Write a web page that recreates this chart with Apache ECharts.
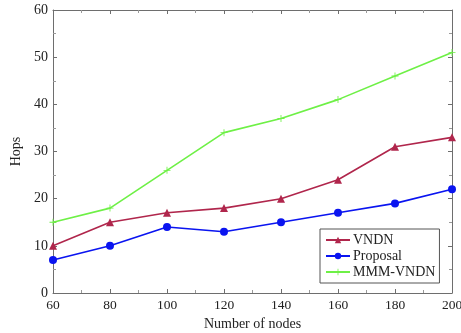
<!DOCTYPE html>
<html>
<head>
<meta charset="utf-8">
<script src="https://cdn.jsdelivr.net/npm/echarts@6/dist/echarts.min.js"></script>
<style>
  html, body { margin: 0; padding: 0; background: #fff; }
  #chart { width: 461px; height: 333px; }
</style>
</head>
<body>
<div id="chart"></div>
<script>
const nodes = [60, 80, 100, 120, 140, 160, 180, 200]
const vndn = [10, 15, 17, 18, 20, 24, 31, 33]
const proposal = [7, 10, 14, 13, 15, 17, 19, 22]
const mmmVndn = [15, 18, 26, 34, 37, 41, 46, 51]

const font = 'Liberation Serif'
const axisGrey = '#6e6e6e'
const plus = 'path://M4.4,0h1.2v4.4h4.4v1.2h-4.4v4.4h-1.2v-4.4H0v-1.2h4.4z'

const pairs = (ys) => nodes.map((x, i) => [x, ys[i]])

const chart = echarts.init(document.getElementById('chart'))

// shared axis look: ticks inside, minor ticks, no grid lines
const baseAxis = {
    type: 'value',
    axisLine: { show: true, onZero: false, lineStyle: { color: axisGrey, width: 1 } },
    axisTick: { show: true, inside: true, length: 4, lineStyle: { color: axisGrey } },
    minorTick: { show: true, splitNumber: 2, length: 3, lineStyle: { color: '#999' } },
    splitLine: { show: false },
}

chart.setOption({
    animation: false,
    grid: { left: 53, right: 9, top: 10, bottom: 40, containLabel: false, outerBoundsMode: 'none' },
    xAxis: [
        Object.assign({}, baseAxis, {
            min: 60, max: 200, interval: 20, position: 'bottom',
            name: 'Number of nodes', nameLocation: 'middle', nameGap: 21,
            nameTextStyle: { fontFamily: font, fontSize: 14, color: '#222' },
            axisLabel: { fontFamily: font, fontSize: 13.5, color: '#222', margin: 5 },
        }),
        Object.assign({}, baseAxis, {
            min: 60, max: 200, interval: 20, position: 'top',
            axisLabel: { show: false },
        }),
    ],
    yAxis: [
        Object.assign({}, baseAxis, {
            min: 0, max: 60, interval: 10, position: 'left',
            name: 'Hops', nameLocation: 'middle', nameGap: 30, nameRotate: 90,
            nameTextStyle: { fontFamily: font, fontSize: 14, color: '#222' },
            axisLabel: { fontFamily: font, fontSize: 14, color: '#222', margin: 5 },
        }),
        Object.assign({}, baseAxis, {
            min: 0, max: 60, interval: 10, position: 'right',
            axisLabel: { show: false },
        }),
    ],
    legend: {
        orient: 'vertical',
        left: 320, top: 229,
        padding: [4, 4, 4, 5],
        itemGap: 2,
        itemWidth: 24,
        itemHeight: 8,
        borderColor: '#555',
        borderWidth: 1,
        backgroundColor: '#fff',
        borderRadius: 0,
        textStyle: { fontFamily: font, fontSize: 14, color: '#222', padding: [0, 0, 0, -2] },
        data: ['VNDN', 'Proposal', 'MMM-VNDN'],
    },
    series: [
        {
            name: 'VNDN', type: 'line', data: pairs(vndn),
            symbol: 'triangle', symbolSize: 8,
            itemStyle: { color: '#b0264c' },
            lineStyle: { color: '#b0264c', width: 1.6 },
        },
        {
            name: 'Proposal', type: 'line', data: pairs(proposal),
            symbol: 'circle', symbolSize: 8,
            itemStyle: { color: '#0a14f0' },
            lineStyle: { color: '#0a14f0', width: 1.6 },
        },
        {
            name: 'MMM-VNDN', type: 'line', data: pairs(mmmVndn),
            symbol: plus, symbolSize: 7,
            itemStyle: { color: '#6ef046' },
            lineStyle: { color: '#6ef046', width: 1.6 },
        },
    ],
})
</script>
</body>
</html>
